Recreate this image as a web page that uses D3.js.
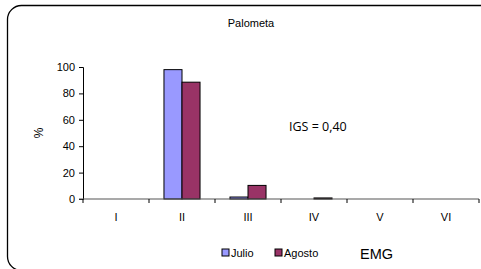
<!DOCTYPE html>
<html>
<head>
<meta charset="utf-8">
<script src="https://cdn.jsdelivr.net/npm/d3@7"></script>
<style>
  body { margin: 0; background: #fff; }
  svg { display: block; font-family: "Liberation Sans", Arial, sans-serif; }
</style>
</head>
<body>
<div id="chart"></div>
<script>
// data
var categories = ["I", "II", "III", "IV", "V", "VI"];
var seriesNames = ["Julio", "Agosto"];
var julio  = [0, 98, 1.5, 0, 0, 0];
var agosto = [0, 88.5, 10.3, 0.8, 0, 0];
var yTicks = [0, 20, 40, 60, 80, 100];
var colors = ["#9999ff", "#993366"];

var W = 481, H = 269;
var m = {left: 83, right: 2, top: 67, bottom: 70};

var svg = d3.select("#chart").append("svg")
  .attr("width", W).attr("height", H);

// rounded frame (runs off the right and bottom)
svg.append("rect")
  .attr("x", 7.5).attr("y", 5.5)
  .attr("width", 520).attr("height", 265)
  .attr("rx", 14)
  .attr("fill", "none").attr("stroke", "#000").attr("stroke-width", 1.3);

var x = d3.scaleBand().domain(categories).range([m.left, 479]);
var x1 = d3.scaleBand().domain(seriesNames).range([0, x.bandwidth()]).paddingOuter(0.83);
var y = d3.scaleLinear().domain([0, 100]).range([199, 67]);

var table = categories.map(function(c, i){
  return {cat: c, vals: [julio[i], agosto[i]]};
});

// bars
var grp = svg.append("g").selectAll("g").data(table).enter().append("g")
  .attr("transform", function(d){ return "translate(" + x(d.cat) + ",0)"; });
grp.selectAll("rect").data(function(d){ return d.vals.map(function(v, k){ return {s: seriesNames[k], v: v, k: k}; }).filter(function(o){ return o.v > 0; }); })
  .enter().append("rect")
  .attr("x", function(d){ return x1(d.s); })
  .attr("y", function(d){ return y(d.v); })
  .attr("width", x1.bandwidth())
  .attr("height", function(d){ return y(0) - y(d.v); })
  .attr("fill", function(d){ return colors[d.k]; })
  .attr("stroke", "#000").attr("stroke-width", 1);

// y axis
var yAxis = svg.append("g").attr("transform", "translate(" + m.left + ",0)")
  .call(d3.axisLeft(y).tickValues(yTicks).tickSize(4).tickPadding(4));
yAxis.select(".domain").attr("stroke", "#000");
yAxis.selectAll("line").attr("stroke", "#000");
yAxis.selectAll("text").style("font-size", "11px").attr("fill", "#000");

// x axis with ticks between categories
var xAxis = svg.append("g").attr("transform", "translate(0," + y(0) + ")");
xAxis.append("line").attr("x1", m.left - 4).attr("x2", 479).attr("stroke", "#555").attr("stroke-width", 1.2);
xAxis.selectAll(".tk").data(categories.concat(["end"])).enter().append("line")
  .attr("x1", function(d, i){ return m.left + i * x.step(); })
  .attr("x2", function(d, i){ return m.left + i * x.step(); })
  .attr("y1", 0).attr("y2", 4).attr("stroke", "#000");
xAxis.selectAll("text").data(categories).enter().append("text")
  .attr("x", function(d){ return x(d) + x.bandwidth() / 2; })
  .attr("y", 22)
  .attr("text-anchor", "middle")
  .style("font-size", "11px")
  .text(function(d){ return d; });

// titles
svg.append("text").attr("x", 251).attr("y", 27).attr("text-anchor", "middle")
  .style("font-size", "11px").text("Palometa");
svg.append("text").attr("transform", "translate(43,133) rotate(-90)").attr("text-anchor", "middle")
  .style("font-size", "12px").text("%");
svg.append("text").attr("x", 289).attr("y", 131)
  .style("font-family", "'Open Sans', sans-serif").style("font-size", "12.5px").text("IGS = 0,40");
svg.append("text").attr("x", 360).attr("y", 259)
  .style("font-size", "14.5px").text("EMG");

// legend
var leg = svg.append("g").selectAll("g").data(seriesNames).enter().append("g")
  .attr("transform", function(d, i){ return "translate(" + (222 + i * 53) + ",249)"; });
leg.append("rect").attr("width", 7).attr("height", 7)
  .attr("fill", function(d, i){ return colors[i]; }).attr("stroke", "#000");
leg.append("text").attr("x", 9).attr("y", 8).style("font-size", "11px").text(function(d){ return d; });
</script>
</body>
</html>
